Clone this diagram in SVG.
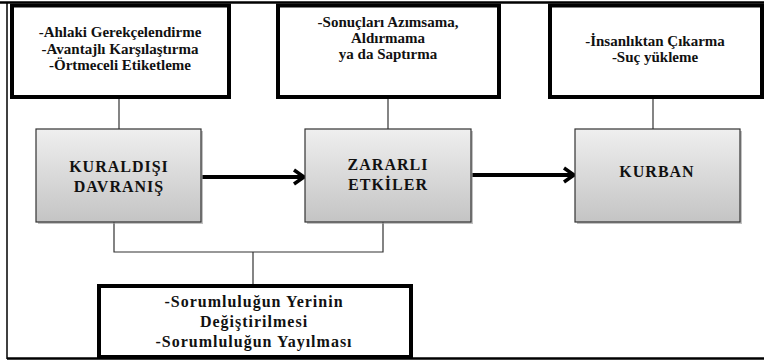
<svg xmlns="http://www.w3.org/2000/svg" width="764" height="362" viewBox="0 0 764 362">
<defs>
<linearGradient id="g" x1="0" y1="0" x2="0" y2="1">
<stop offset="0" stop-color="#efefef"/>
<stop offset="1" stop-color="#c4c4c4"/>
</linearGradient>
<marker id="ah" markerUnits="userSpaceOnUse" markerWidth="20" markerHeight="20" refX="14" refY="10" orient="auto" viewBox="0 0 20 20">
<path d="M4,3 L14,10 L4,17" fill="none" stroke="#000" stroke-width="3.5" stroke-linejoin="miter"/>
</marker>
</defs>
<rect width="764" height="362" fill="#fff"/>
<g id="frame" fill="none" stroke="#000">
<line x1="0" y1="2.5" x2="764" y2="2.5" stroke-width="2.5"/>
<line x1="7" y1="2" x2="7" y2="359" stroke-width="1.5"/>
<line x1="7" y1="358.5" x2="764" y2="358.5" stroke-width="2.5"/>
</g>
<g id="connectors" fill="none" stroke="#333" stroke-width="1.2">
<line x1="119" y1="99" x2="119" y2="129"/>
<line x1="388" y1="99" x2="388" y2="129"/>
<line x1="653" y1="99" x2="653" y2="129"/>
<polyline points="114,222 114,252 383,252 383,222"/>
<line x1="253" y1="252" x2="253" y2="284"/>
<line x1="202" y1="177" x2="304" y2="177" stroke="#000" stroke-width="4" marker-end="url(#ah)"/>
<line x1="472" y1="175" x2="574" y2="175" stroke="#000" stroke-width="4" marker-end="url(#ah)"/>
</g>
<g id="box-ahlaki">
<rect x="12" y="5.5" width="217" height="91.5" fill="#fff" stroke="#000" stroke-width="4"/>
<text x="120" y="37" font-family="Liberation Serif" font-size="15" font-weight="bold" text-anchor="middle" fill="#111">-Ahlaki Gerekçelendirme</text>
<text x="120" y="53.5" font-family="Liberation Serif" font-size="15" font-weight="bold" text-anchor="middle" fill="#111">-Avantajlı Karşılaştırma</text>
<text x="120" y="70" font-family="Liberation Serif" font-size="15" font-weight="bold" text-anchor="middle" fill="#111">-Örtmeceli Etiketleme</text>
</g>
<g id="box-sonuclari">
<rect x="278" y="5.5" width="221" height="91.5" fill="#fff" stroke="#000" stroke-width="4"/>
<text x="388" y="27" font-family="Liberation Serif" font-size="15" font-weight="bold" text-anchor="middle" fill="#111">-Sonuçları Azımsama,</text>
<text x="388" y="43" font-family="Liberation Serif" font-size="15" font-weight="bold" text-anchor="middle" fill="#111">Aldırmama</text>
<text x="388" y="59" font-family="Liberation Serif" font-size="15" font-weight="bold" text-anchor="middle" fill="#111">ya da Saptırma</text>
</g>
<g id="box-insanliktan">
<rect x="550" y="5.5" width="212" height="91.5" fill="#fff" stroke="#000" stroke-width="4"/>
<text x="655" y="46" font-family="Liberation Serif" font-size="15" font-weight="bold" text-anchor="middle" fill="#111">-İnsanlıktan Çıkarma</text>
<text x="655" y="62" font-family="Liberation Serif" font-size="15" font-weight="bold" text-anchor="middle" fill="#111">-Suç yükleme</text>
</g>
<g id="box-kuraldisi">
<rect x="38" y="131" width="165" height="93" fill="#999" opacity="0.6"/>
<rect x="36" y="129" width="165" height="93" fill="url(#g)" stroke="#333" stroke-width="1.2"/>
<text x="119" y="172" font-family="Liberation Serif" font-size="16" font-weight="bold" letter-spacing="1" text-anchor="middle" fill="#111">KURALDIŞI</text>
<text x="119" y="192" font-family="Liberation Serif" font-size="16" font-weight="bold" letter-spacing="1" text-anchor="middle" fill="#111">DAVRANIŞ</text>
</g>
<g id="box-zararli">
<rect x="307" y="131" width="166" height="93" fill="#999" opacity="0.6"/>
<rect x="305" y="129" width="166" height="93" fill="url(#g)" stroke="#333" stroke-width="1.2"/>
<text x="388" y="170" font-family="Liberation Serif" font-size="16" font-weight="bold" letter-spacing="1" text-anchor="middle" fill="#111">ZARARLI</text>
<text x="388" y="190" font-family="Liberation Serif" font-size="16" font-weight="bold" letter-spacing="1" text-anchor="middle" fill="#111">ETKİLER</text>
</g>
<g id="box-kurban">
<rect x="577" y="131" width="165" height="93" fill="#999" opacity="0.6"/>
<rect x="575" y="129" width="165" height="93" fill="url(#g)" stroke="#333" stroke-width="1.2"/>
<text x="657" y="177" font-family="Liberation Serif" font-size="16" font-weight="bold" letter-spacing="1" text-anchor="middle" fill="#111">KURBAN</text>
</g>
<g id="box-sorumluluk">
<rect x="99" y="286" width="312" height="71" fill="#fff" stroke="#000" stroke-width="4"/>
<text x="254" y="307" font-family="Liberation Serif" font-size="16" font-weight="bold" letter-spacing="1" text-anchor="middle" fill="#111">-Sorumluluğun Yerinin</text>
<text x="254" y="327" font-family="Liberation Serif" font-size="16" font-weight="bold" letter-spacing="1" text-anchor="middle" fill="#111">Değiştirilmesi</text>
<text x="254" y="347" font-family="Liberation Serif" font-size="16" font-weight="bold" letter-spacing="1" text-anchor="middle" fill="#111">-Sorumluluğun Yayılması</text>
</g>
</svg>
